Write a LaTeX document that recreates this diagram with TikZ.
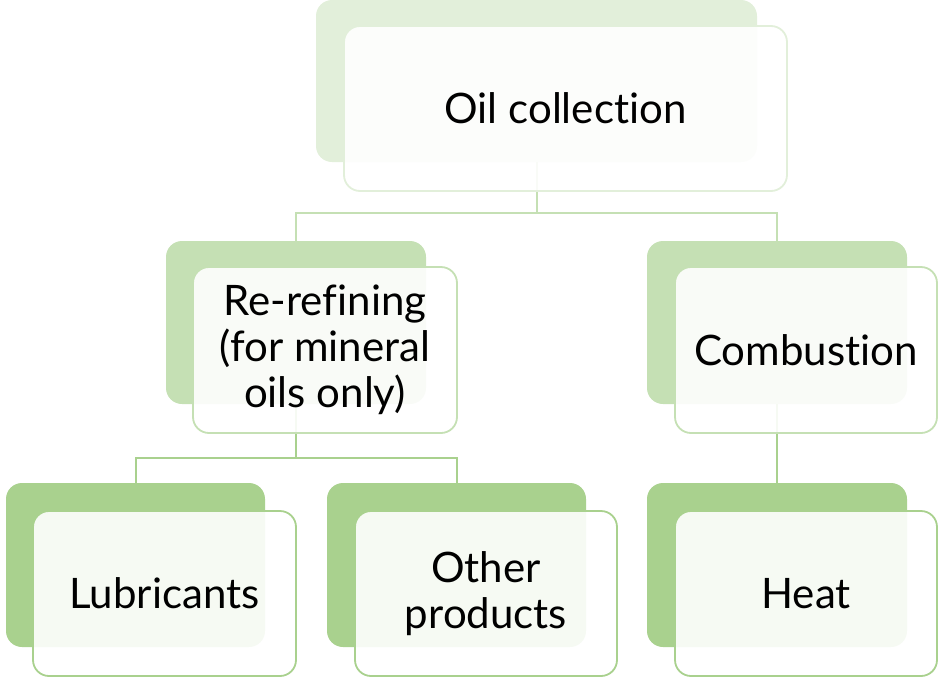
\documentclass[tikz,border=0pt]{standalone}
\usepackage{fontspec}
\setmainfont[Ligatures=NoCommon]{Lato}
\definecolor{gA}{HTML}{E2EFDA}
\definecolor{gB}{HTML}{C5E0B4}
\definecolor{gC}{HTML}{A9D18E}
\tikzset{
  backbox/.style={rounded corners=16pt, inner sep=0pt, fill=#1, draw=none},
  frontbox/.style={rounded corners=16pt, inner sep=0pt, fill=white, fill opacity=0.9, text opacity=1,
    draw=#1, line width=1.8pt, align=center, font=\fontsize{42}{46}\selectfont},
  conn/.style={draw=#1, line width=2pt},
}
\begin{document}
\begin{tikzpicture}[x=1pt,y=-1pt]
\useasboundingbox (0,0) rectangle (938,678);
% back boxes
\node[backbox=gA, minimum width=441pt, minimum height=162pt] (oilB) at (536.5,81) {};
\node[backbox=gB, minimum width=260pt, minimum height=163pt] (refB) at (296,322.5) {};
\node[backbox=gB, minimum width=260pt, minimum height=163pt] (comB) at (777,322.5) {};
\node[backbox=gC, minimum width=259pt, minimum height=164pt] (lubB) at (135.5,565) {};
\node[backbox=gC, minimum width=259pt, minimum height=164pt] (othB) at (456.5,565) {};
\node[backbox=gC, minimum width=260pt, minimum height=164pt] (heaB) at (777,565) {};
% connectors
\draw[conn=gB] (oilB.south) -- (oilB.south |- 0,213) -| (refB.north);
\draw[conn=gB] (oilB.south |- 0,213) -| (comB.north);
\draw[conn=gC] (refB.south) -- (refB.south |- 0,458) -| (lubB.north);
\draw[conn=gC] (refB.south |- 0,458) -| (othB.north);
\draw[conn=gC] (comB.south) -- (heaB.north);
% front boxes
\node[frontbox=gA, minimum width=443pt, minimum height=165pt] (oil) at (565.5,108.5) {Oil collection};
\node[frontbox=gB, minimum width=264pt, minimum height=166pt] (ref) at (325,350) {Re-refining\\(for mineral\\oils only)};
\node[frontbox=gB, minimum width=262pt, minimum height=166pt] (com) at (806,350) {Combustion};
\node[frontbox=gC, minimum width=263pt, minimum height=165pt] (lub) at (164.5,593.5) {Lubricants};
\node[frontbox=gC, minimum width=262pt, minimum height=165pt] (oth) at (486,593.5) {Other\\products};
\node[frontbox=gC, minimum width=262pt, minimum height=165pt] (hea) at (806,593.5) {Heat};
\end{tikzpicture}
\end{document}
